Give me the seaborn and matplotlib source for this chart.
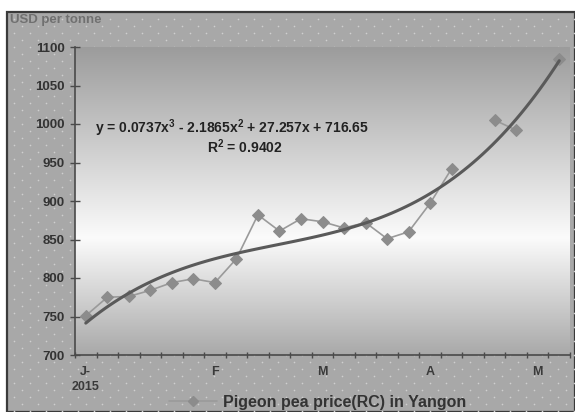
import numpy as np
import pandas as pd
import matplotlib
matplotlib.use("Agg")
import matplotlib.pyplot as plt
from matplotlib.lines import Line2D
from matplotlib.patches import Rectangle
from matplotlib.colors import LinearSegmentedColormap
import seaborn as sns

# ---- data ----
period = list(range(1, 24))
price = [751, 775, 776, 784, 794, 799, 794, 825, 882, 861, 877, 873, 865,
         872, 851, 860, 897, 942, np.nan, 1005, 992, np.nan, 1084]
tick_pos = [1, 7, 12, 17, 22]
tick_labels = ["J-\n2015", "F", "M", "A", "M"]
equation = "y = 0.0737x$^3$ - 2.1865x$^2$ + 27.257x + 716.65"
r2_text = "R$^2$ = 0.9402"
series_name = "Pigeon pea price(RC) in Yangon"
y_label = "USD per tonne"

sns.set_theme(style="white")
plt.rcParams['font.family'] = ['Liberation Sans', 'DejaVu Sans']
plt.rcParams['mathtext.fontset'] = 'custom'
plt.rcParams['mathtext.rm'] = 'Liberation Sans:bold'

W, H = 575, 412
fig = plt.figure(figsize=(W / 100, H / 100), dpi=100)
fig.patch.set_facecolor("white")

# chart area background with dotted pattern
bg = fig.add_axes([0, 0, 1, 1], zorder=-10)
bg.set_xlim(0, W)
bg.set_ylim(H, 0)
bg.axis("off")
bg.add_patch(Rectangle((7, 12), W - 7, H - 12, facecolor="#a8a8a8",
                       edgecolor="#3a3a3a", lw=1.6))
xs, ys = [], []
for i, yy in enumerate(np.arange(19, H, 7)):
    off = 0 if i % 2 == 0 else 8
    for xx in np.arange(14 + off, W, 16):
        xs.append(xx)
        ys.append(yy)
bg.scatter(xs, ys, s=1.4, color="#cfcfcf", linewidths=0)

# plot area
left, right = 75 / W, 570 / W
bottom, top = 1 - 355 / H, 1 - 47 / H
ax = fig.add_axes([left, bottom, right - left, top - bottom])
ax.set_xlim(0.5, 23.5)
ax.set_ylim(700, 1100)

cmap = LinearSegmentedColormap.from_list(
    "g", [(0.0, "#a9a9a9"), (0.38, "#fbfbfb"), (1.0, "#9c9c9c")])
grad = np.linspace(0, 1, 256).reshape(-1, 1)
ax.imshow(grad, cmap=cmap, aspect="auto", origin="lower",
          extent=[0.5, 23.5, 700, 1100], zorder=0)

df = pd.DataFrame({"period": period, "price": price})
df["seg"] = df["price"].isna().cumsum()
dfv = df.dropna()

sns.lineplot(data=dfv, x="period", y="price", units="seg", estimator=None,
             color="#9a9a9a", lw=1.2, marker="D", markersize=6,
             markerfacecolor="#8c8c8c", markeredgecolor="#8c8c8c",
             ax=ax, zorder=3, legend=False)
sns.regplot(data=dfv, x="period", y="price", order=3, ci=None, scatter=False,
            line_kws=dict(color="#5a5a5a", lw=2.2), ax=ax, truncate=True)
ax.lines[-1].set_zorder(4)

ax.set_xlabel("")
ax.set_ylabel("")
for s in ["top", "right"]:
    ax.spines[s].set_visible(False)
for s in ["left", "bottom"]:
    ax.spines[s].set_color("#4a4a4a")
    ax.spines[s].set_linewidth(1.2)

ax.set_yticks(np.arange(700, 1101, 50))
ax.tick_params(axis="y", direction="inout", length=7, width=1, color="#4a4a4a",
               labelsize=9.5, labelcolor="#333333", pad=4, left=True)
for t in ax.get_yticklabels():
    t.set_fontweight("bold")

ax.set_xticks(tick_pos)
ax.set_xticklabels(tick_labels, fontsize=9, fontweight="bold",
                   color="#3a3a3a", linespacing=1.3)
ax.set_xticks(np.arange(0.5, 23.6, 1), minor=True)
ax.tick_params(axis="x", which="major", length=0, pad=8, bottom=True)
ax.tick_params(axis="x", which="minor", direction="inout", length=5,
               width=1, color="#4a4a4a", bottom=True)

ax.text(0.318, 0.737, equation, transform=ax.transAxes, ha="center",
        va="center", fontsize=10, fontweight="bold", color="#222222", zorder=5)
ax.text(0.343, 0.675, r2_text, transform=ax.transAxes, ha="center",
        va="center", fontsize=10, fontweight="bold", color="#222222", zorder=5)

fig.text(10 / W, 1 - 20 / H, y_label, ha="left", va="center", fontsize=9.5,
         color="#707070", fontweight="bold")

handle = Line2D([], [], color="#9a9a9a", lw=1.2, marker="D", markersize=5.5,
                markerfacecolor="#8c8c8c", markeredgecolor="#8c8c8c")
fig.legend([handle], [series_name], loc="center",
           bbox_to_anchor=(0.552, 1 - 402 / H), frameon=False,
           prop=dict(size=11.5, weight="bold"), labelcolor="#333333",
           handlelength=3, handletextpad=0.4)

fig.savefig("out.png", dpi=100)
